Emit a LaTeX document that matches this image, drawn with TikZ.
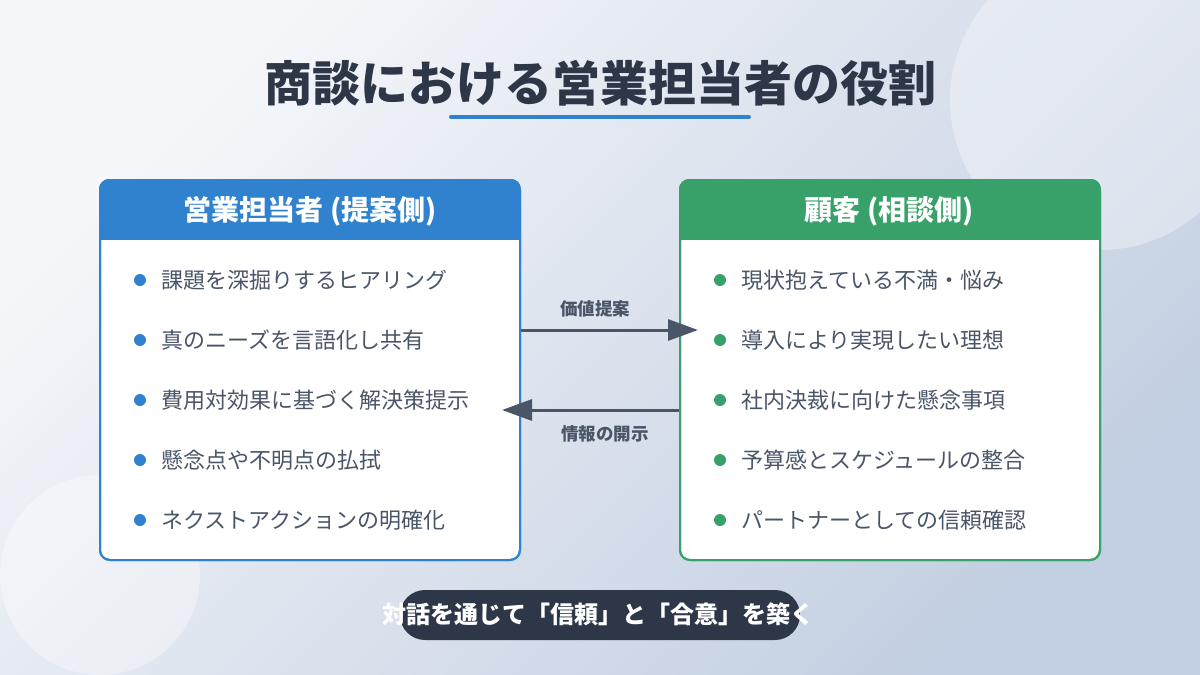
\documentclass[tikz,border=0pt]{standalone}
\usepackage{fontspec}
\setmainfont{Noto Sans CJK JP}
\usetikzlibrary{arrows.meta}
\definecolor{bgA}{HTML}{F5F7FA}
\definecolor{bgB}{HTML}{C3CFE2}
\definecolor{ink}{HTML}{2D3748}
\definecolor{txt}{HTML}{4A5568}
\definecolor{sblue}{HTML}{3182CE}
\definecolor{sgreen}{HTML}{38A169}
\tikzset{
  boxframe/.style={draw=#1, line width=2pt, rounded corners=10pt, fill=white, minimum width=420pt, minimum height=380pt, inner sep=0pt},
  headtext/.style={text=white, font=\fontsize{28}{32}\selectfont\bfseries},
  itemtext/.style={anchor=west, text=txt, inner sep=0pt, font=\fontsize{22}{26}\selectfont},
  flowarrow/.style={draw=txt, line width=3pt, -{Triangle[length=30pt,width=21pt]}},
  flowlabel/.style={text=txt, font=\fontsize{17.5}{20}\selectfont\bfseries},
  bgcircle/.style={fill=white, opacity=0.35},
}
\begin{document}
\begin{tikzpicture}[x=1pt,y=-1pt]
\useasboundingbox (0,0) rectangle (1200,675);
% background
\shade[top color=bgA, bottom color=bgB, shading angle=45] (0,0) rectangle (1200,675);
\fill[bgcircle] (1100,100) circle (150);
\fill[bgcircle] (100,575) circle (100);
% title
\node[text=ink, font=\fontsize{48}{56}\selectfont\bfseries] (title) at (600,83) {商談における営業担当者の役割};
\draw[sblue, line width=4pt, line cap=round] (451,117) -- (749,117);
% left box
\node[boxframe=sblue] (L) at (310,370) {};
\begin{scope}
  \clip[rounded corners=10pt] (L.north west) rectangle (L.south east);
  \fill[sblue] (L.north west) rectangle ([yshift=-61pt]L.north east);
\end{scope}
\draw[sblue, line width=2pt, rounded corners=10pt] (100,180) rectangle (520,560);
\node[headtext] (Lh) at (310,211) {営業担当者 (提案側)};
\foreach \y/\t [count=\i] in {280/課題を深掘りするヒアリング, 340/真のニーズを言語化し共有, 400/費用対効果に基づく解決策提示, 460/懸念点や不明点の払拭, 520/ネクストアクションの明確化}{
  \fill[sblue] (140,\y) circle (6);
  \node[itemtext] (li\i) at (161,\y) {\t};
}
% right box
\node[boxframe=sgreen] (R) at (890,370) {};
\begin{scope}
  \clip[rounded corners=10pt] (R.north west) rectangle (R.south east);
  \fill[sgreen] (R.north west) rectangle ([yshift=-61pt]R.north east);
\end{scope}
\draw[sgreen, line width=2pt, rounded corners=10pt] (680,180) rectangle (1100,560);
\node[headtext] (Rh) at (889,211) {顧客 (相談側)};
\foreach \y/\t [count=\i] in {280/現状抱えている不満・悩み, 340/導入により実現したい理想, 400/社内決裁に向けた懸念事項, 460/予算感とスケジュールの整合, 520/パートナーとしての信頼確認}{
  \fill[sgreen] (720,\y) circle (6);
  \node[itemtext] (ri\i) at (741,\y) {\t};
}
% arrows
\draw[flowarrow] ([yshift=40pt]L.east) -- ([xshift=19pt,yshift=40pt]R.west);
\draw[flowarrow] ([yshift=-40pt]R.west) -- ([xshift=-19pt,yshift=-40pt]L.east);
\node[flowlabel] (a1) at (595,309) {価値提案};
\node[flowlabel] (a2) at (605,434) {情報の開示};
% bottom banner
\node[fill=ink, rounded corners=25pt, minimum width=400pt, minimum height=50pt, inner sep=0pt] (pill) at (600,615) {};
\node[text=white, font=\fontsize{24}{28}\selectfont\bfseries] (msg) at (598,614) {対話を通じて「信頼」と「合意」を築く};
\end{tikzpicture}
\end{document}
